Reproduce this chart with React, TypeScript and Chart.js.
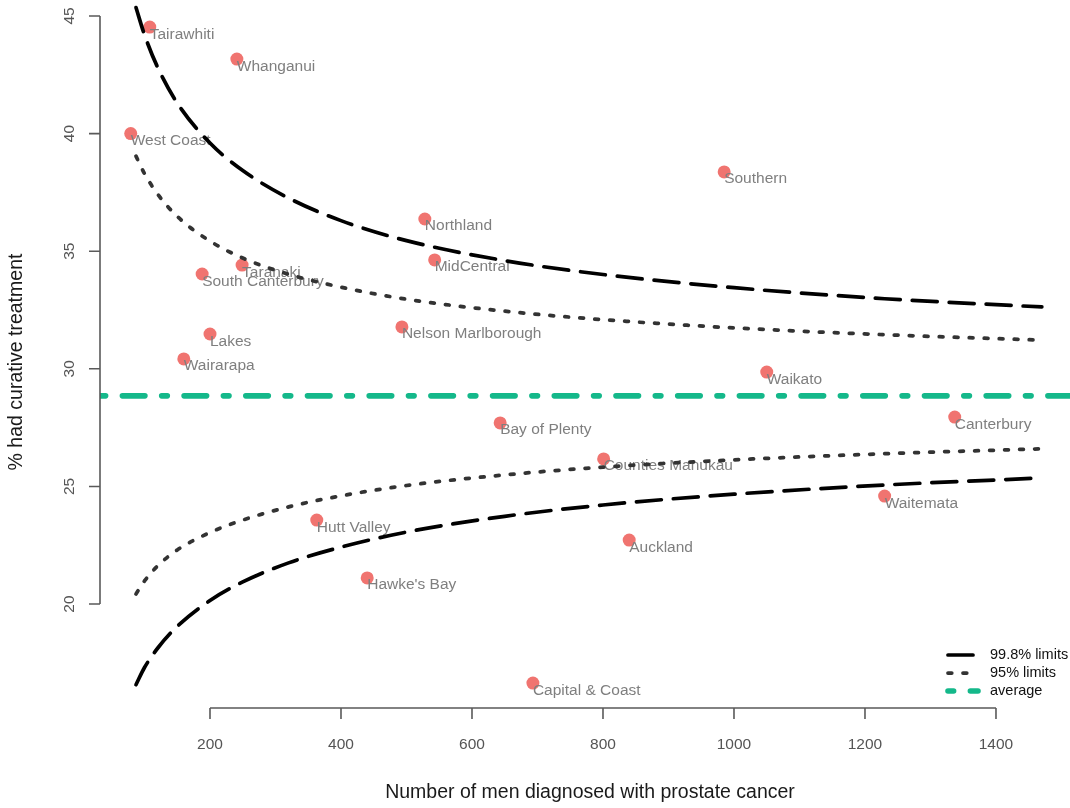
import React, { useEffect, useRef } from "react";
import { Chart, registerables } from "chart.js";

Chart.register(...registerables);

// ---- data ----
const REGIONS = [
  "Tairawhiti", "Whanganui", "West Coast", "Southern", "Northland", "MidCentral",
  "Taranaki", "South Canterbury", "Lakes", "Nelson Marlborough", "Wairarapa",
  "Waikato", "Canterbury", "Bay of Plenty", "Counties Manukau", "Waitemata",
  "Hutt Valley", "Auckland", "Hawke's Bay", "Capital & Coast",
];
const DIAGNOSED = [108, 241, 79, 985, 528, 543, 249, 188, 200, 493, 160, 1050, 1337, 643, 801, 1230, 363, 840, 440, 693];
const CURATIVE_PCT = [44.53, 43.17, 40.0, 38.37, 36.37, 34.63, 34.41, 34.03, 31.48, 31.78, 30.42, 29.86, 27.95, 27.7, 26.17, 24.59, 23.57, 22.72, 21.11, 16.64];

const LIMIT_N = [87, 100, 120, 150, 200, 250, 320, 400, 500, 650, 800, 1000, 1230, 1470];
const UPPER_998 = [45.36, 44.2, 42.82, 41.3, 39.6, 38.43, 37.26, 36.3, 35.45, 34.6, 34.01, 33.45, 32.98, 32.63];
const UPPER_95 = [39.04, 38.3, 37.43, 36.48, 35.43, 34.71, 34.02, 33.47, 32.96, 32.45, 32.09, 31.74, 31.45, 31.22];
const LOWER_95 = [20.43, 20.98, 21.62, 22.3, 23.04, 23.57, 24.13, 24.6, 25.04, 25.49, 25.82, 26.13, 26.39, 26.6];
const LOWER_998 = [16.57, 17.3, 18.12, 19.05, 20.15, 20.94, 21.75, 22.42, 23.06, 23.73, 24.21, 24.67, 25.06, 25.36];
const AVERAGE = 28.85;

const X_TICKS = [200, 400, 600, 800, 1000, 1200, 1400];
const Y_TICKS = [20, 25, 30, 35, 40, 45];
const X_MIN = 32.06;
const X_MAX = 1513;
const Y_MIN = 15.58;
const Y_MAX = 45.68;

const X_TITLE = "Number of men diagnosed with prostate cancer";
const Y_TITLE = "% had curative treatment";
const LEGEND_LABELS = ["99.8% limits", "95% limits", "average"];

const FONT = "'Liberation Sans', Arial, Helvetica, sans-serif";

const toXY = (xs: number[], ys: number[]) => xs.map((x, i) => ({ x, y: ys[i] }));

export default function App() {
  const ref = useRef<HTMLCanvasElement | null>(null);

  useEffect(() => {
    document.body.style.margin = "0";
    const canvas = ref.current;
    if (!canvas) return;

    const longDash = { borderColor: "#000000", borderWidth: 3.7, borderDash: [25, 12] };
    const dotted = { borderColor: "#333333", borderWidth: 3.75, borderDash: [3.75, 11.25] };
    const avgStyle = { borderColor: "#14B88A", borderWidth: 5.6, borderDash: [5.6, 16.8, 22.5, 16.8] };

    const lineCommon = {
      type: "line" as const,
      showLine: true,
      pointRadius: 0,
      pointHoverRadius: 0,
      fill: false,
      borderCapStyle: "round" as const,
      borderJoinStyle: "round" as const,
      cubicInterpolationMode: "monotone" as const,
    };

    const datasets: any[] = [
      { ...lineCommon, ...avgStyle, label: LEGEND_LABELS[2], legendRow: 2, data: [{ x: X_MIN, y: AVERAGE }, { x: X_MAX, y: AVERAGE }], cubicInterpolationMode: "default", tension: 0 },
      { ...lineCommon, ...longDash, label: LEGEND_LABELS[0], legendRow: 0, data: toXY(LIMIT_N, UPPER_998) },
      { ...lineCommon, ...longDash, label: LEGEND_LABELS[0], data: toXY(LIMIT_N, LOWER_998) },
      { ...lineCommon, ...dotted, label: LEGEND_LABELS[1], legendRow: 1, data: toXY(LIMIT_N, UPPER_95) },
      { ...lineCommon, ...dotted, label: LEGEND_LABELS[1], data: toXY(LIMIT_N, LOWER_95) },
      {
        type: "scatter",
        label: "regions",
        data: toXY(DIAGNOSED, CURATIVE_PCT),
        pointRadius: 6.5,
        pointHoverRadius: 6.5,
        pointBackgroundColor: "#F07470",
        pointBorderWidth: 0,
        showLine: false,
      },
    ];
    const POINTS_INDEX = datasets.length - 1;

    const decor = {
      id: "decor",
      afterDatasetDraw(chart: any, args: any) {
        if (args.index !== POINTS_INDEX) return;
        const ctx = chart.ctx;
        const meta = chart.getDatasetMeta(POINTS_INDEX);
        ctx.save();
        ctx.font = `15.5px ${FONT}`;
        ctx.fillStyle = "#7f7f7f";
        ctx.textAlign = "left";
        ctx.textBaseline = "alphabetic";
        meta.data.forEach((el: any, i: number) => {
          ctx.fillText(REGIONS[i], el.x, el.y + 11.5);
        });
        ctx.restore();
      },
      afterDraw(chart: any) {
        const ctx = chart.ctx;
        const xs = chart.scales.x;
        const ys = chart.scales.y;
        const area = chart.chartArea;
        ctx.save();
        ctx.strokeStyle = "#5a5a5a";
        ctx.lineWidth = 1.6;
        ctx.lineCap = "butt";
        // x axis
        const xa = xs.getPixelForValue(X_TICKS[0]);
        const xb = xs.getPixelForValue(X_TICKS[X_TICKS.length - 1]);
        const ay = area.bottom;
        ctx.beginPath();
        ctx.moveTo(xa, ay);
        ctx.lineTo(xb, ay);
        X_TICKS.forEach((t) => {
          const px = xs.getPixelForValue(t);
          ctx.moveTo(px, ay);
          ctx.lineTo(px, ay + 11);
        });
        ctx.stroke();
        // y axis
        const ya = ys.getPixelForValue(Y_TICKS[0]);
        const yb = ys.getPixelForValue(Y_TICKS[Y_TICKS.length - 1]);
        const ax = area.left;
        ctx.beginPath();
        ctx.moveTo(ax, ya);
        ctx.lineTo(ax, yb);
        Y_TICKS.forEach((t) => {
          const py = ys.getPixelForValue(t);
          ctx.moveTo(ax, py);
          ctx.lineTo(ax - 11, py);
        });
        ctx.stroke();

        // tick labels
        ctx.fillStyle = "#555555";
        ctx.font = `15.5px ${FONT}`;
        ctx.textAlign = "center";
        ctx.textBaseline = "middle";
        X_TICKS.forEach((t) => {
          ctx.fillText(String(t), xs.getPixelForValue(t), 745);
        });
        Y_TICKS.forEach((t) => {
          ctx.save();
          ctx.translate(70, ys.getPixelForValue(t));
          ctx.rotate(-Math.PI / 2);
          ctx.fillText(String(t), 0, 0);
          ctx.restore();
        });

        // titles
        ctx.fillStyle = "#1a1a1a";
        ctx.font = `19.5px ${FONT}`;
        ctx.fillText(X_TITLE, 590, 793);
        ctx.save();
        ctx.translate(17, 362);
        ctx.rotate(-Math.PI / 2);
        ctx.fillText(Y_TITLE, 0, 0);
        ctx.restore();

        // legend
        const rows = chart.data.datasets.filter((d: any) => d.legendRow !== undefined)
          .sort((a: any, b: any) => a.legendRow - b.legendRow);
        rows.forEach((d: any, r: number) => {
          const cy = 655 + r * 18;
          ctx.save();
          ctx.strokeStyle = d.borderColor;
          ctx.lineWidth = d.borderWidth;
          ctx.lineCap = "round";
          ctx.setLineDash(d.borderDash);
          ctx.beginPath();
          ctx.moveTo(948, cy);
          ctx.lineTo(978, cy);
          ctx.stroke();
          ctx.restore();
          ctx.fillStyle = "#111111";
          ctx.font = `14.5px ${FONT}`;
          ctx.textAlign = "left";
          ctx.textBaseline = "middle";
          ctx.fillText(d.label, 990, cy);
        });
        ctx.restore();
      },
    };

    const chart = new Chart(canvas, {
      type: "scatter",
      data: { datasets },
      options: {
        responsive: false,
        animation: false,
        events: [],
        layout: { padding: 0, autoPadding: false },
        plugins: { legend: { display: false }, tooltip: { enabled: false } },
        scales: {
          x: {
            type: "linear",
            min: X_MIN,
            max: X_MAX,
            grid: { display: false },
            border: { display: false },
            ticks: { display: false },
            afterFit: (s: any) => { s.height = 100; },
          },
          y: {
            type: "linear",
            min: Y_MIN,
            max: Y_MAX,
            grid: { display: false },
            border: { display: false },
            ticks: { display: false },
            afterFit: (s: any) => { s.width = 100; },
          },
        },
      },
      plugins: [decor],
    } as any);

    return () => chart.destroy();
  }, []);

  return (
    <div style={{ width: 1070, height: 808 }}>
      <canvas ref={ref} width={1070} height={808} style={{ display: "block", width: 1070, height: 808 }} />
    </div>
  );
}
